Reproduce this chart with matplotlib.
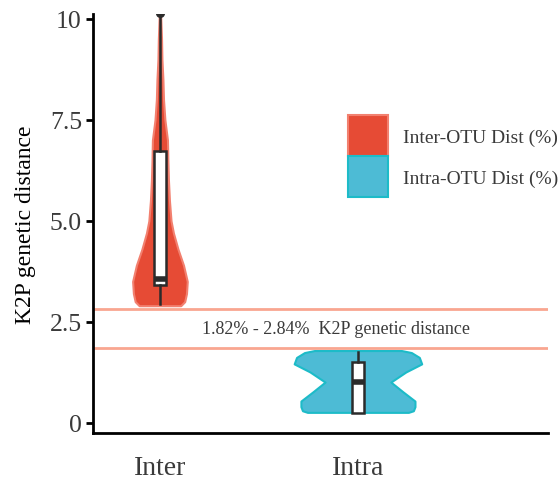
import matplotlib.pyplot as plt
from matplotlib.patches import Patch

# Categories
groups = ["Inter", "Intra"]
positions = [1, 2]

# Violin outlines: value levels and half widths (x units)
inter_y = [2.90, 3.00, 3.20, 3.50, 3.90, 4.30, 4.70, 5.00, 5.50, 6.00, 6.50, 7.00, 7.50, 8.00, 8.50, 9.00, 9.50, 10.15]
inter_hw = [0.105, 0.125, 0.134, 0.138, 0.119, 0.091, 0.068, 0.056, 0.048, 0.043, 0.040, 0.038, 0.025, 0.018, 0.015, 0.010, 0.008, 0.003]

intra_y = [0.26, 0.30, 0.40, 0.54, 0.77, 1.01, 1.26, 1.46, 1.62, 1.74, 1.79]
intra_hw = [0.255, 0.280, 0.288, 0.288, 0.227, 0.166, 0.242, 0.322, 0.310, 0.270, 0.220]

# Box stats: whisker low, q1, median, q3, whisker high
inter_box = [2.95, 3.40, 3.55, 6.74, 10.15]
intra_box = [0.25, 0.25, 1.01, 1.51, 1.76]
inter_outlier = [10.15]

# Threshold band
band_low = 1.85
band_high = 2.81
band_label = "1.82% - 2.84%  K2P genetic distance"

legend_labels = ["Inter-OTU Dist (%)", "Intra-OTU Dist (%)"]

red = "#E64B35"
red_edge = "#F2806F"
blue = "#4DBBD5"
blue_edge = "#1DBBC8"
band_col = "#F9A690"
text_col = "#3A3A3A"

plt.rcParams["font.family"] = ["Liberation Serif", "DejaVu Serif"]

fig = plt.figure(figsize=(5.6, 4.85), dpi=100)
ax = fig.add_axes([0.1661, 0.1052, 0.8125, 0.8640])

# violins
for pos, ys, hw, fc, ec in [(positions[0], inter_y, inter_hw, red, red_edge),
                            (positions[1], intra_y, intra_hw, blue, blue_edge)]:
    left = [pos - w for w in hw]
    right = [pos + w for w in hw]
    ax.fill_betweenx(ys, left, right, facecolor=fc, edgecolor=ec, linewidth=1.5, zorder=2)

# boxes
bxp_stats = []
for name, b in zip(groups, [inter_box, intra_box]):
    bxp_stats.append(dict(label=name, whislo=b[0], q1=b[1], med=b[2], q3=b[3], whishi=b[4], fliers=[]))
ax.bxp(bxp_stats, positions=positions, widths=0.062, showfliers=False, showcaps=False,
       patch_artist=True,
       boxprops=dict(facecolor="white", edgecolor="#2B2B2B", linewidth=1.8),
       whiskerprops=dict(color="#2B2B2B", linewidth=1.8),
       medianprops=dict(color="#2B2B2B", linewidth=4, solid_capstyle="butt"),
       zorder=3)
ax.plot([positions[0]] * len(inter_outlier), inter_outlier, "o", color="#2B2B2B",
        markersize=5.5, zorder=4)

# threshold band
ax.axhline(band_high, color=band_col, linewidth=2, zorder=1)
ax.axhline(band_low, color=band_col, linewidth=2, zorder=1)
ax.text(1.89, (band_low + band_high) / 2, band_label, ha="center", va="center",
        fontsize=13, color=text_col)

# axes styling
ax.set_xlim(0.662, 2.96)
ax.set_ylim(-0.25, 10.12)
ax.set_yticks([0, 2.5, 5.0, 7.5, 10])
ax.set_yticklabels(["0", "2.5", "5.0", "7.5", "10"])
ax.set_xticks(positions)
ax.set_xticklabels(groups)
ax.tick_params(axis="y", labelsize=18.5, colors=text_col, length=5, width=2, color="black", pad=3)
ax.tick_params(axis="x", labelsize=20, colors=text_col, length=0, pad=16)
ax.spines["top"].set_visible(False)
ax.spines["right"].set_visible(False)
ax.spines["left"].set_linewidth(2)
ax.spines["bottom"].set_linewidth(2)
ax.set_ylabel("K2P genetic distance", fontsize=17, color="black", labelpad=10)

# legend
handles = [Patch(facecolor=red, edgecolor=red_edge, linewidth=1.5),
           Patch(facecolor=blue, edgecolor=blue_edge, linewidth=1.5)]
ax.legend(handles, legend_labels, loc="upper left", bbox_to_anchor=(0.54, 0.781),
          frameon=False, fontsize=14, handlelength=2.05, handleheight=2.86,
          labelspacing=0.0, handletextpad=0.75, borderpad=0, labelcolor=text_col)

fig.savefig("out.png", dpi=100)
